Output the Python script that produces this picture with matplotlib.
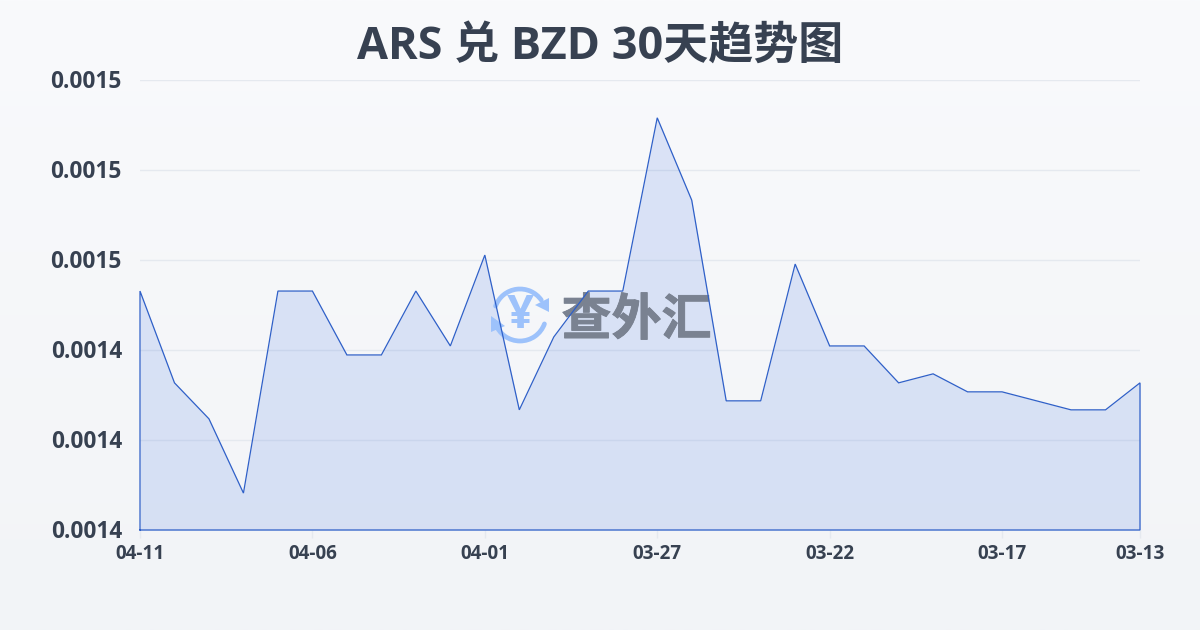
import numpy as np
import matplotlib
matplotlib.use("Agg")
import matplotlib.pyplot as plt
import matplotlib.patheffects as pe
from matplotlib.patches import Arc, Polygon
from matplotlib.transforms import ScaledTranslation

plt.rcParams['font.family'] = ['Open Sans', 'Noto Sans CJK SC', 'DejaVu Sans']

# newest first, like the reference
dates = ['04-11', '04-10', '04-09', '04-08', '04-07', '04-06', '04-05', '04-04', '04-03', '04-02',
         '04-01', '03-31', '03-30', '03-29', '03-28', '03-27', '03-26', '03-25', '03-24', '03-23',
         '03-22', '03-21', '03-20', '03-19', '03-18', '03-17', '03-16', '03-15', '03-14', '03-13']
rates = [0.0014531, 0.0014327, 0.0014247, 0.0014082, 0.0014531, 0.0014531, 0.0014389, 0.0014389, 0.0014531, 0.0014409,
         0.0014611, 0.0014267, 0.0014429, 0.0014531, 0.0014531, 0.0014916, 0.0014733, 0.0014287, 0.0014287, 0.0014591,
         0.0014409, 0.0014409, 0.0014327, 0.0014347, 0.0014307, 0.0014307, 0.0014287, 0.0014267, 0.0014267, 0.0014327]
y_ticks = [0.00140, 0.00142, 0.00144, 0.00146, 0.00148, 0.00150]
x_ticks = [0, 5, 10, 15, 20, 25, 29]

W, H = 1200, 630
TEXT = '#374151'
LINE = '#2f60c8'
GRID = '#e5e9ef'

fig = plt.figure(figsize=(12, 6.3), dpi=100)

# page background gradient
bg = fig.add_axes([0, 0, 1, 1], zorder=0)
bg.imshow(np.linspace(0, 1, 256).reshape(-1, 1),
          cmap=matplotlib.colors.LinearSegmentedColormap.from_list('bg', ['#f9fafc', '#f2f4f7']),
          aspect='auto', extent=[0, 1, 0, 1])
bg.axis('off')

ax = fig.add_axes([140 / W, 1 - 530 / H, 1000 / W, 450 / H], zorder=1)
ax.patch.set_alpha(0)
x = np.arange(len(rates))
ax.fill_between(x, rates, y_ticks[0], color='#2a62e0', alpha=0.14, lw=0, zorder=2)
ax.grid(axis='y', color=GRID, lw=1, zorder=1)
ax.set_axisbelow(True)
ax.set_xlim(0, len(rates) - 1)
ax.set_ylim(y_ticks[0], y_ticks[-1])
ax.set_yticks(y_ticks)
ax.set_yticklabels(['%.4f' % v for v in y_ticks], fontsize=16.3, fontweight='bold', color=TEXT)
ax.set_xticks(x_ticks)
ax.set_xticklabels([dates[i] for i in x_ticks], fontsize=13.6, fontweight='bold', color=TEXT)
ax.tick_params(axis='y', length=0, pad=13)
ax.tick_params(axis='x', length=6, width=1, color=GRID, pad=4)
for s in ax.spines.values():
    s.set_visible(False)
# y labels sit a little above their gridlines
for lab in ax.get_yticklabels():
    lab.set_transform(lab.get_transform() + ScaledTranslation(0, 1.5 / 100, fig.dpi_scale_trans))

# overlay in pixel coordinates for title and watermark
ov = fig.add_axes([0, 0, 1, 1], zorder=2)
ov.set_xlim(0, W)
ov.set_ylim(H, 0)
ov.axis('off')
ov.patch.set_alpha(0)

ICON = '#9dc2fb'
cx, cy, r = 520, 315, 26
ov.add_patch(Arc((cx, cy), 2 * r, 2 * r, theta1=200, theta2=325, color=ICON, lw=3.4, capstyle='round'))
ov.add_patch(Arc((cx, cy), 2 * r, 2 * r, theta1=20, theta2=160, color=ICON, lw=3.4, capstyle='round'))
ov.add_patch(Polygon([[549, 298], [549, 312], [535, 305]], closed=True, color=ICON, lw=0))
ov.add_patch(Polygon([[491, 316], [491, 332], [505, 326]], closed=True, color=ICON, lw=0))
ov.text(cx, cy, '¥', fontsize=34, fontweight='bold', color=ICON, ha='center', va='center')
ov.text(636.5, 322, '查外汇', fontsize=36, fontweight='bold', color='#7a8291', ha='center', va='center',
        path_effects=[pe.withStroke(linewidth=0.6, foreground='#7a8291')])

ov.text(600, 47, 'ARS 兑 BZD 30天趋势图', fontsize=32.4, fontweight='bold', color=TEXT, ha='center', va='center')

# outline goes above the watermark, closed down to the baseline
top = fig.add_axes(ax.get_position(), zorder=3, sharex=ax, sharey=ax)
top.patch.set_alpha(0)
top.axis('off')
top.plot(np.r_[x[0], x, x[-1], x[0]], np.r_[y_ticks[0], rates, y_ticks[0], y_ticks[0]],
         color=LINE, lw=0.9, solid_joinstyle='miter', clip_on=False)

fig.savefig('out.png', dpi=100)
